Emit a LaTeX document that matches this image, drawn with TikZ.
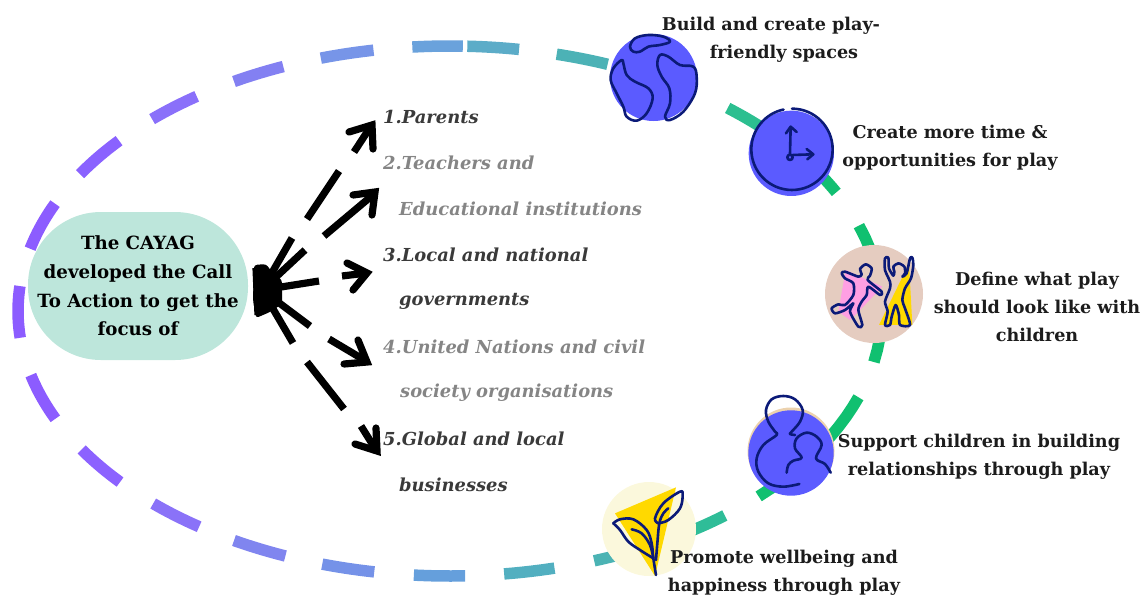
\documentclass[tikz,border=0pt]{standalone}
\usepackage{fontspec}
\setmainfont{DejaVu Serif}
\definecolor{boxc}{HTML}{BDE6DB}
\definecolor{ink}{HTML}{1C1C1C}
\definecolor{listd}{HTML}{3A3A3A}
\definecolor{listg}{HTML}{858585}
\definecolor{bluec}{HTML}{5B5BFF}
\definecolor{navyc}{HTML}{0B1A78}
\definecolor{tanc}{HTML}{E5CCC0}
\definecolor{tanb}{HTML}{ECD2AE}
\definecolor{creamc}{HTML}{FBF8DC}
\definecolor{yellc}{HTML}{FFD900}
\definecolor{pinkc}{HTML}{FF9FE3}
\tikzset{
  x=1pt,y=-1pt,
  elld/.style={line width=11.5pt},
  conn/.style={line width=7.2pt,black},
  tipc/.style={line width=7.2pt,black,line cap=round,line join=miter},
  icon/.style={navyc,line width=2.6pt,line cap=round,line join=round},
  lab/.style={font=\fontsize{17.6}{28}\selectfont\bfseries,text=ink,align=center,inner sep=0pt},
  item/.style={font=\fontsize{17.9}{20}\selectfont\bfseries\itshape,anchor=west,inner sep=0pt},
}
\begin{document}
\begin{tikzpicture}
\useasboundingbox (0,0) rectangle (1142,595);
% dashed orbit
\foreach \a/\b/\c in {
 174.2/185.4/8C5CFF,193.6/203.9/8C5CFF,211.1/220/8A62FF,226.4/234.1/8A70FA,240/247.3/8380F2,
 252.6/259.8/7795E8,265/271.7/6AA2DC,272.3/279.2/5CACC8,284.3/291.4/4CB2B6,
 310/322/2CBF90,321/333.4/12BF72,341.2/371.1/10C070,379/404.4/10C070,410.5/420/2FBD98,419/430.5/4BB3B4,
 76/82.8/52AFC0,88/94.8/659FDC,100.1/107.2/7592E8,112.4/120/8085EF,125.5/133.4/8A72F8,139.8/148.5/8C62FF,156/166/8C5CFF}{
  \definecolor{segc}{HTML}{\c}
  \draw[elld,draw=segc] plot[domain=\a:\b,samples=12] ({450+432*cos(\x)},{311+265*sin(\x)});
}
% central box
\node[lab,font=\fontsize{18.2}{28.6}\selectfont\bfseries,fill=boxc,rounded corners=73pt,minimum width=220pt,minimum height=148pt,text=black] (cayag) at (138,286) {The CAYAG\\developed the Call\\To Action to get the\\focus of};
% list
\node[item,text=listd] (t1) at (383,117) {1.Parents};
\node[item,text=listg] (t2) at (383,163) {2.Teachers and};
\node[item,text=listg] (t2b) at (399,209) {Educational institutions};
\node[item,text=listd] (t3) at (383,255) {3.Local and national};
\node[item,text=listd] (t3b) at (399,301) {governments};
\node[item,text=listg] (t4) at (383,347) {4.United Nations and civil};
\node[item,text=listg] (t4b) at (400,393) {society organisations};
\node[item,text=listd] (t5) at (383,439) {5.Global and local};
\node[item,text=listd] (t5b) at (399,485) {businesses};
% arrow coordinates
\coordinate (hub) at (262,290);
\coordinate (a1a) at (292,238); \coordinate (a1b) at (307,219); \coordinate (a1c) at (339,171); \coordinate (a1d) at (354,152); \coordinate (a1e) at (371,126);
\coordinate (a2a) at (305,250); \coordinate (a2b) at (324,236); \coordinate (a2c) at (374,194);
\coordinate (a3a) at (319,281); \coordinate (a3b) at (342,276); \coordinate (a3c) at (367,273);
\coordinate (a4a) at (310,326); \coordinate (a4b) at (329,339); \coordinate (a4c) at (366,361);
\coordinate (a5a) at (293,343); \coordinate (a5b) at (307,362); \coordinate (a5c) at (344,409); \coordinate (a5d) at (361,426); \coordinate (a5e) at (376,450);
% hub blob
\fill[black,rounded corners=3pt] (254,265) -- (266,264) -- (272,272) -- (282,280) -- (282,304) -- (270,312) -- (256,318) -- (253,300) -- cycle;
% arrows
\draw[conn] (hub) -- (a1a); \draw[conn] (a1b) -- (a1c); \draw[conn] (a1d) -- (a1e);
\draw[tipc] (349,132) -- (372,125) -- (373,149);
\draw[conn] (hub) -- (a2a); \draw[conn] (a2b) -- (a2c);
\draw[tipc] (353,195) -- (375,192) -- (372,215);
\draw[conn] (hub) -- (a3a); \draw[conn] (a3b) -- (a3c);
\draw[tipc] (347,263) -- (367,273) -- (353,290);
\draw[conn] (hub) -- (a4a); \draw[conn] (a4b) -- (a4c);
\draw[tipc] (358,340) -- (367,362) -- (344,364);
\draw[conn] (hub) -- (a5a); \draw[conn] (a5b) -- (a5c); \draw[conn] (a5d) -- (a5e);
\draw[tipc] (355,444) -- (377,451) -- (376,428);
\draw[conn] (256,268) -- (258,315);
% globe
\fill[bluec] (653.5,77.5) circle (43.5);
\begin{scope}[shift={(580,0)},x=.3333pt,y=-.3333pt]
 \draw[icon] plot[smooth cycle,tension=.6] coordinates {(150,140)(165,115)(205,105)(250,110)(270,125)(240,135)(205,140)(180,155)(160,155)};
 \draw[icon] plot[smooth cycle,tension=.6] coordinates {(125,180)(100,205)(92,240)(110,280)(130,320)(140,350)(170,362)(200,340)(218,295)(205,265)(165,245)(140,225)(130,190)};
 \draw[icon] plot[smooth cycle,tension=.6] coordinates {(350,230)(340,200)(300,195)(265,170)(240,165)(232,195)(245,230)(268,265)(270,310)(255,350)(270,360)(310,335)(345,280)};
 % clock
 \fill[bluec] (634,460) circle (128);
 \draw[icon] (636,326) arc[start angle=-90,end angle=258,radius=122,x radius=122,y radius=122];
 \draw[icon] (630,472) circle (8);
 \draw[icon] (630,463) -- (632,382);
 \draw[icon] (618,400) -- (632,380) -- (650,396);
 \draw[icon] (638,465) -- (698,463);
 \draw[icon] (680,447) -- (700,463) -- (682,478);
\end{scope}
% dancers
\fill[tanc] (874,294) circle (49);
\begin{scope}[shift={(825,245)},x=.3333pt,y=-.3333pt]
 \fill[pinkc] (62,75) -- (172,125) -- (105,195) -- (75,225) -- (40,200) -- cycle;
 \fill[yellc] (252,55) -- (262,240) -- (162,240) -- cycle;
 \draw[icon] plot[smooth cycle,tension=.45] coordinates {(50,85)(60,80)(100,95)(110,88)(105,72)(122,58)(140,70)(135,92)(128,105)(170,140)(165,150)(130,125)(125,150)(110,170)(100,195)(112,240)(100,245)(75,200)(85,175)(60,195)(30,205)(20,190)(40,178)(60,180)(85,150)(85,115)(60,100)};
 \draw[icon] plot[smooth cycle,tension=.45] coordinates {(180,40)(190,38)(192,70)(205,92)(208,80)(205,65)(220,55)(238,65)(240,85)(232,95)(245,85)(255,40)(262,38)(265,60)(258,100)(240,130)(232,165)(240,190)(255,240)(225,240)(222,210)(212,180)(200,215)(195,240)(180,240)(188,200)(180,170)(195,130)(195,110)(180,75)};
\end{scope}
% relationships
\fill[tanb] (791,451) circle (43.5);
\fill[bluec] (791,453) circle (42.7);
\begin{scope}[shift={(740,390)},x=.3333pt,y=-.3333pt]
 \draw[icon] plot[smooth,tension=.6] coordinates {(178,282)(130,290)(85,280)(55,245)(50,205)(70,165)(110,135)(105,125)(85,95)(78,60)(95,28)(130,18)(165,28)(188,60)(180,95)(155,125)(150,132)(165,135)};
 \draw[icon] plot[smooth,tension=.6] coordinates {(140,248)(145,225)(160,212)(185,203)(165,175)(170,145)(200,128)(230,140)(245,165)(228,205)(255,222)(272,248)};
\end{scope}
% leaf
\fill[creamc] (649,529) circle (47);
\begin{scope}[shift={(600,480)},x=.3333pt,y=-.3333pt]
 \fill[yellc] (228,22) -- (165,288) -- (45,100) -- cycle;
 \draw[icon] plot[smooth,tension=.6] coordinates {(40,130)(60,118)(100,118)(140,150)(155,190)(160,235)(168,285)};
 \draw[icon] plot[smooth,tension=.6] coordinates {(40,130)(60,150)(85,185)(120,210)(160,235)};
 \draw[icon] plot[smooth,tension=.6] coordinates {(95,148)(125,160)(150,195)(160,235)};
 \draw[icon] plot[smooth,tension=.6] coordinates {(175,130)(165,115)(190,70)(240,35)(248,45)(240,85)(205,120)(175,130)};
 \draw[icon] plot[smooth,tension=.6] coordinates {(168,240)(172,190)(178,130)(190,100)(205,85)};
\end{scope}
% labels
\node[lab] (l1) at (771,40) {Build and create play-\\\hspace*{26pt}friendly spaces};
\node[lab] (l2) at (950,148) {Create more time \&\\opportunities for play};
\node[lab] (l3) at (1037,307) {Define what play\\should look like with\\children};
\node[lab] (l4) at (979,457) {Support children in building\\relationships through play};
\node[lab] (l5) at (784,573) {Promote wellbeing and\\happiness through play};
\end{tikzpicture}
\end{document}
